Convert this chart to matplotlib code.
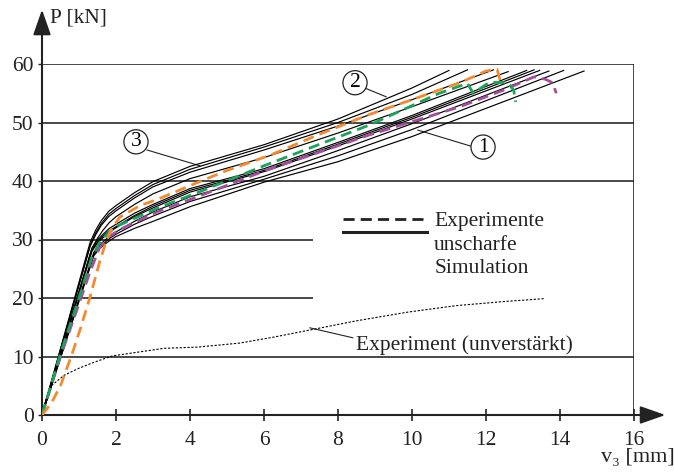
import matplotlib.pyplot as plt

plt.rcParams['font.family'] = ['Liberation Serif', 'DejaVu Serif']
plt.rcParams['font.size'] = 15.5

# fuzzy simulation curves (black, thin)
sim_x = [
    [0, 1.3, 1.45, 1.6, 1.8, 2, 2.5, 3, 4, 6, 8, 10, 11.0],
    [0, 1.3, 1.45, 1.6, 1.8, 2, 2.5, 3, 4, 6, 8, 10, 11.5],
    [0, 1.3, 1.45, 1.6, 1.8, 2, 2.5, 3, 4, 6, 8, 10, 12.2],
    [0, 1.35, 1.5, 1.65, 1.82, 2, 2.5, 3, 4, 6, 8, 10, 12.6],
    [0, 1.35, 1.5, 1.65, 1.82, 2, 2.5, 3, 4, 6, 8, 10, 13.1],
    [0, 1.35, 1.5, 1.65, 1.82, 2, 2.5, 3, 4, 6, 8, 10, 13.3],
    [0, 1.35, 1.5, 1.65, 1.82, 2, 2.5, 3, 4, 6, 8, 10, 13.45],
    [0, 1.4, 1.55, 1.7, 1.85, 2, 2.5, 3, 4, 6, 8, 10, 13.7],
    [0, 1.4, 1.55, 1.7, 1.85, 2, 2.5, 3, 4, 6, 8, 10, 14.1],
    [0, 1.4, 1.55, 1.7, 1.85, 2, 2.5, 3, 4, 6, 8, 10, 14.65],
]
sim_y = [
    [0, 29.5, 31.6, 33.2, 34.8, 35.8, 38.0, 39.9, 42.5, 46.2, 50.6, 55.9, 58.9],
    [0, 29.0, 31.1, 32.7, 34.3, 35.3, 37.5, 39.4, 42.0, 45.8, 50.0, 54.8, 59.0],
    [0, 28.8, 30.8, 32.4, 33.9, 34.9, 37.1, 39.0, 41.5, 45.3, 49.4, 53.9, 59.0],
    [0, 28.5, 30.2, 31.6, 32.9, 33.9, 36.0, 37.8, 40.4, 44.0, 48.2, 52.7, 58.7],
    [0, 28.5, 29.9, 30.9, 31.9, 32.6, 34.5, 36.0, 38.7, 42.1, 46.6, 51.2, 58.9],
    [0, 28.2, 29.6, 30.6, 31.5, 32.2, 34.1, 35.7, 38.4, 41.8, 46.3, 50.9, 59.0],
    [0, 28.0, 29.4, 30.3, 31.3, 32.0, 33.9, 35.4, 38.1, 41.6, 46.0, 50.6, 58.9],
    [0, 27.8, 29.0, 29.9, 30.7, 31.3, 33.1, 34.7, 37.3, 40.8, 45.2, 49.8, 58.8],
    [0, 27.5, 28.7, 29.5, 30.3, 30.9, 32.6, 34.0, 36.5, 40.3, 44.3, 48.8, 58.9],
    [0, 27.2, 28.4, 29.2, 29.9, 30.5, 31.9, 33.1, 35.6, 39.8, 43.3, 47.6, 58.8],
]

# experiments (dashed, coloured)
orange_x = [0, 0.25, 0.5, 0.8, 1.05, 1.3, 1.55, 1.7, 1.85, 2.1, 2.65, 3.1, 4.3, 5.0,
            6.2, 7.5, 8.86, 10.0, 11.3, 12.0, 12.3, 12.4]
orange_y = [0, 2.0, 5.0, 10.2, 15.0, 20.2, 26.0, 29.0, 31.5, 33.8, 35.8, 36.8, 40.0, 41.8,
            44.5, 48.0, 51.4, 53.9, 56.8, 58.8, 59.1, 56.8]
green_x = [0, 0.5, 1.0, 1.35, 1.6, 2.0, 3.1, 4.2, 6.0, 8.86, 10.7, 11.5, 11.65, 12.1,
           12.6, 12.75, 12.8]
green_y = [0, 10.5, 20.0, 27.0, 30.0, 32.2, 35.3, 38.0, 42.6, 49.6, 54.9, 56.7, 55.0, 56.9,
           56.8, 55.5, 53.5]
magenta_x = [0, 0.5, 1.0, 1.3, 1.55, 1.8, 2.2, 3.1, 4.2, 6.0, 8.86, 11.3, 12.5, 13.3,
             13.6, 13.8, 13.9]
magenta_y = [0, 10.0, 19.0, 24.5, 28.5, 30.5, 32.0, 34.7, 37.3, 41.7, 47.9, 52.7, 55.6, 57.8,
             57.4, 56.8, 55.0]

# unreinforced experiment (dotted)
unv_x = [0, 0.1, 0.25, 0.6, 1.0, 1.4, 1.9, 2.65, 3.3, 4.2, 5.35, 6.25, 7.3, 8.5, 9.9,
         11.2, 12.5, 13.6]
unv_y = [0, 2.5, 5.0, 6.8, 8.0, 9.0, 10.1, 10.8, 11.4, 11.6, 12.3, 13.3, 14.6, 16.1, 17.6,
         18.7, 19.4, 19.9]

x_ticks = [0, 2, 4, 6, 8, 10, 12, 14, 16]
y_ticks = [0, 10, 20, 30, 40, 50, 60]

fig = plt.figure(figsize=(6.74, 4.72), dpi=100)
ax = fig.add_axes([42 / 674, 57 / 472, 592 / 674, 351 / 472])
ax.set_xlim(0, 16)
ax.set_ylim(0, 60)
for s in ax.spines.values():
    s.set_visible(False)

# grid lines (20 and 30 stop at the legend)
ax.hlines([10, 40, 50, 60], 0, 16, color='#2a2a2a', lw=1.2, zorder=1)
ax.hlines([20, 30], 0, 7.32, color='#2a2a2a', lw=1.2, zorder=1)
ax.vlines(16, 0, 60, color='#2a2a2a', lw=1.2, zorder=1)

for xs, ys in zip(sim_x, sim_y):
    ax.plot(xs, ys, color='black', lw=0.85, zorder=3)

dash = (4, 2.2)
ax.plot(magenta_x, magenta_y, color='#a64d9d', lw=2.0, dashes=dash, zorder=4)
ax.plot(green_x, green_y, color='#19a35b', lw=2.0, dashes=dash, zorder=4)
ax.plot(orange_x, orange_y, color='#f38b2e', lw=2.0, dashes=dash, zorder=5)
ax.plot(unv_x, unv_y, color='black', lw=0.8, dashes=(2, 1.5), zorder=3)

# axes with arrows
ax.annotate('', xy=(16.85, 0), xytext=(0, 0), annotation_clip=False,
            arrowprops=dict(arrowstyle='-|>,head_length=1.0,head_width=0.35',
                            color='#222222', lw=1.5, shrinkA=0, shrinkB=0))
ax.annotate('', xy=(0, 69.3), xytext=(0, 0), annotation_clip=False,
            arrowprops=dict(arrowstyle='-|>,head_length=1.0,head_width=0.35',
                            color='#222222', lw=1.5, shrinkA=0, shrinkB=0))

ax.set_xticks(x_ticks)
ax.set_yticks(y_ticks)
ax.tick_params(axis='x', direction='inout', length=9, width=1.2, pad=7,
               color='#222222', labelcolor='#222222')
ax.tick_params(axis='y', direction='out', length=3, width=1.0, pad=3,
               color='#222222', labelcolor='#222222')

ax.text(0.22, 67.8, 'P [kN]', ha='left', va='center', color='#222222')
ax.text(17.1, -7.3, 'v\u2083 [mm]', ha='right', va='center', color='#222222',
        fontsize=16)

# legend drawn by hand
ax.plot([8.14, 10.3], [33.5, 33.5], color='#222222', lw=2.0, dashes=(4, 2.2))
ax.plot([8.14, 10.4], [31.2, 31.2], color='#222222', lw=2.2)
ax.text(10.6, 33.0, 'Experimente', ha='left', va='center', color='#222222')
ax.text(10.6, 29.0, 'unscharfe', ha='left', va='center', color='#222222')
ax.text(10.6, 25.0, 'Simulation', ha='left', va='center', color='#222222')

# leader labels
circ = dict(boxstyle='circle,pad=0.12', fc='white', ec='#222222', lw=0.9)
ax.plot([11.62, 10.16], [45.9, 48.7], color='#222222', lw=0.8)
ax.text(11.92, 45.8, '1', ha='center', va='center', bbox=circ, zorder=6)
ax.plot([8.76, 9.3], [55.8, 54.4], color='#222222', lw=0.8)
ax.text(8.46, 56.8, '2', ha='center', va='center', bbox=circ, zorder=6)
ax.plot([2.84, 4.27], [45.3, 42.6], color='#222222', lw=0.8)
ax.text(2.54, 46.7, '3', ha='center', va='center', bbox=circ, zorder=6)
ax.plot([8.4, 7.24], [13.2, 14.9], color='#222222', lw=0.8)
ax.text(8.5, 12.0, 'Experiment (unverstärkt)', ha='left', va='center', color='#222222')

fig.savefig('out.png', dpi=100)
